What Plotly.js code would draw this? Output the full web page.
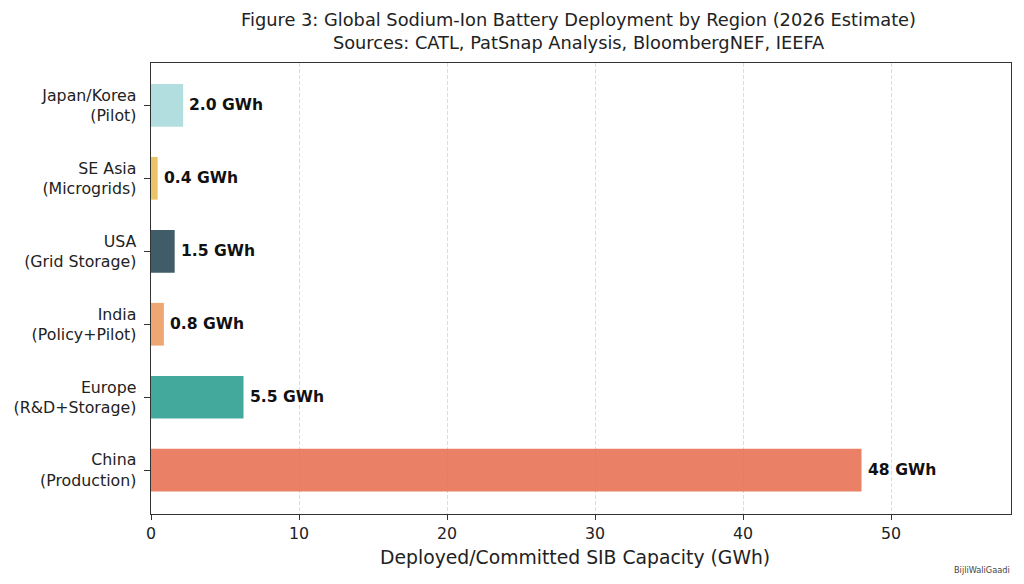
<!DOCTYPE html>
<html><head><meta charset="utf-8">
<script src="https://cdn.plot.ly/plotly-3.0.1.min.js"></script>
<style>html,body{margin:0;padding:0;background:#fff}</style></head>
<body><div id="chart" style="width:1024px;height:584px"></div>
<script>
const categories = ["China<br>(Production)","Europe<br>(R&D+Storage)","India<br>(Policy+Pilot)","USA<br>(Grid Storage)","SE Asia<br>(Microgrids)","Japan/Korea<br>(Pilot)"];
const capacity = [48, 6.25, 0.87, 1.6, 0.45, 2.17];
const valueLabels = ["48 GWh","5.5 GWh","0.8 GWh","1.5 GWh","0.4 GWh","2.0 GWh"];
const barColors = ["#E76F51","#2A9D8F","#EC9A5E","#264653","#E8BC52","#A8DADC"];
const xTicks = [0,10,20,30,40,50];
const titleText = "Figure 3: Global Sodium-Ion Battery Deployment by Region (2026 Estimate)<br>Sources: CATL, PatSnap Analysis, BloombergNEF, IEEFA";
const xTitle = "Deployed/Committed SIB Capacity (GWh)";
const credit = "BijliWaliGaadi";
const font = "DejaVu Sans, sans-serif";
const ink = "#222";
const valueNotes = capacity.map((v,i)=>({
  x:v,y:categories[i],xref:"x",yref:"y",text:valueLabels[i],showarrow:false,
  xanchor:"left",yanchor:"middle",xshift:4,yshift:0,
  font:{family:font,size:15.6,color:"#111",weight:700}
}));
Plotly.newPlot("chart",[{
  type:"bar",orientation:"h",y:categories,x:capacity,width:0.585,
  marker:{color:barColors,opacity:0.88,line:{width:0}},
  hoverinfo:"skip"
}],{
  width:1024,height:584,paper_bgcolor:"#fff",plot_bgcolor:"#fff",
  font:{family:font,color:ink},
  margin:{l:150.5,r:13,t:62.5,b:70},showlegend:false,
  title:{text:titleText,font:{family:font,size:17.8,color:"#222"},x:0.565,xanchor:"center",y:0.955,yanchor:"top"},
  xaxis:{range:[0,58.1],tickvals:xTicks,ticks:"outside",ticklen:5,tickwidth:1,tickcolor:"#333",
    tickfont:{size:15.8,color:ink},showgrid:true,gridcolor:"#dcdcdc",griddash:"4px,2px",gridwidth:1,
    zeroline:false,showline:true,linecolor:"#333",linewidth:1.4,mirror:true},
  yaxis:{type:"category",categoryorder:"array",categoryarray:categories,range:[-0.6,5.58],
    ticks:"outside",ticklen:6,tickwidth:1,tickcolor:"#333",tickfont:{size:15.8,color:ink},ticklabelstandoff:4,
    showgrid:false,zeroline:false,showline:true,linecolor:"#333",linewidth:1.4,mirror:true},
  annotations:[...valueNotes,
   {text:xTitle,xref:"paper",yref:"paper",x:0.4926,y:-0.0975,xanchor:"center",yanchor:"middle",showarrow:false,font:{size:18.8,color:ink}},
   {text:credit,xref:"paper",yref:"paper",x:1.0011,y:-0.124,xanchor:"right",yanchor:"middle",showarrow:false,font:{size:8.2,color:"#444"}}]
},{displayModeBar:false,staticPlot:true});
</script></body></html>
